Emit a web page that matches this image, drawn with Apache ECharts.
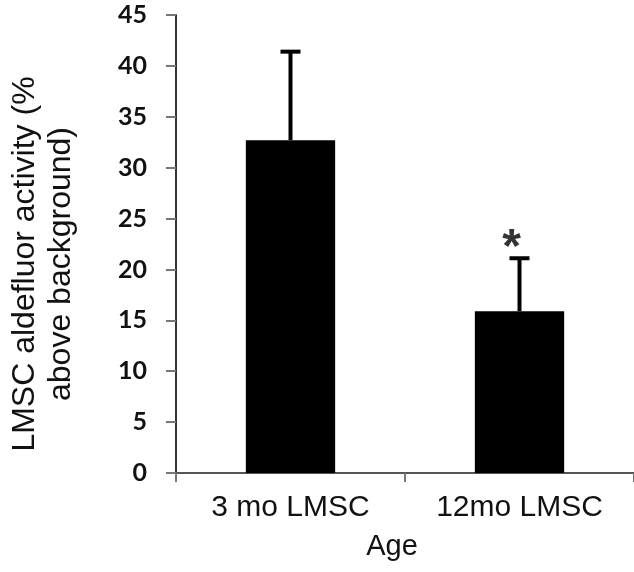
<!DOCTYPE html>
<html>
<head>
<meta charset="utf-8">
<script src="https://cdn.jsdelivr.net/npm/echarts@6/dist/echarts.min.js"></script>
<style>
  html, body { margin: 0; padding: 0; background: #fff; }
  #chart { width: 634px; height: 572px; }
</style>
</head>
<body>
<div id="chart"></div>
<script>
const categories = ['3 mo LMSC', '12mo LMSC'];
const meanValues = [32.7, 15.9];
const errorTops = [41.4, 21.1];
const starLevels = [null, 23];
const yTicks = [0, 45, 5]; // min, max, interval

const chart = echarts.init(document.getElementById('chart'), null, { renderer: 'canvas' });

const errorData = categories.map((c, i) => [i, meanValues[i], errorTops[i]]);
const starData = starLevels.map((v, i) => v == null ? null : [i, v]).filter(Boolean);

const option = {
    animation: false,
    grid: { left: 176, right: 0, top: 15, bottom: 99 },
    xAxis: {
        type: 'category',
        data: categories,
        name: 'Age',
        nameLocation: 'middle',
        nameGap: 59,
        nameTextStyle: {
            fontFamily: 'Liberation Sans', fontSize: 29, color: '#111',
            padding: [0, 26, 0, 0]
        },
        axisLine: { lineStyle: { color: '#555', width: 2 } },
        axisTick: { show: true, length: 9, lineStyle: { color: '#777', width: 2 } },
        axisLabel: {
            margin: 20,
            fontFamily: 'Liberation Sans', fontSize: 30, color: '#111'
        }
    },
    yAxis: {
        type: 'value',
        min: yTicks[0],
        max: yTicks[1],
        interval: yTicks[2],
        splitLine: { show: false },
        axisLine: { show: true, lineStyle: { color: '#333', width: 2 } },
        axisTick: { show: true, length: 10, lineStyle: { color: '#777', width: 2 } },
        axisLabel: {
            margin: 29,
            fontFamily: 'Lato', fontWeight: 'bold', fontSize: 25, color: '#111'
        }
    },
    graphic: [{
        type: 'text',
        x: 43,
        y: 264,
        rotation: Math.PI / 2,
        style: {
            text: 'LMSC aldefluor activity (%\nabove background)',
            fontFamily: 'Liberation Sans',
            fontSize: 32,
            lineHeight: 36,
            fill: '#111',
            textAlign: 'center',
            textVerticalAlign: 'middle'
        }
    }],
    series: [
        {
            type: 'bar',
            data: meanValues,
            barWidth: '39%',
            itemStyle: { color: '#000' }
        },
        {
            type: 'custom',
            data: errorData,
            z: 3,
            renderItem: function (params, api) {
                const lo = api.coord([api.value(0), api.value(1)]);
                const hi = api.coord([api.value(0), api.value(2)]);
                const half = 10;
                const style = { stroke: '#000', lineWidth: 4 };
                return {
                    type: 'group',
                    children: [
                        { type: 'line', shape: { x1: lo[0], y1: lo[1], x2: hi[0], y2: hi[1] }, style: style },
                        { type: 'line', shape: { x1: hi[0] - half, y1: hi[1], x2: hi[0] + half, y2: hi[1] }, style: style }
                    ]
                };
            }
        },
        {
            type: 'scatter',
            data: starData,
            symbolSize: 0,
            label: {
                show: true,
                position: 'inside',
                offset: [-8, 10],
                formatter: '*',
                fontFamily: 'Liberation Sans',
                fontWeight: 'bold',
                fontSize: 48,
                color: '#000'
            }
        }
    ]
};

chart.setOption(option);
</script>
</body>
</html>
